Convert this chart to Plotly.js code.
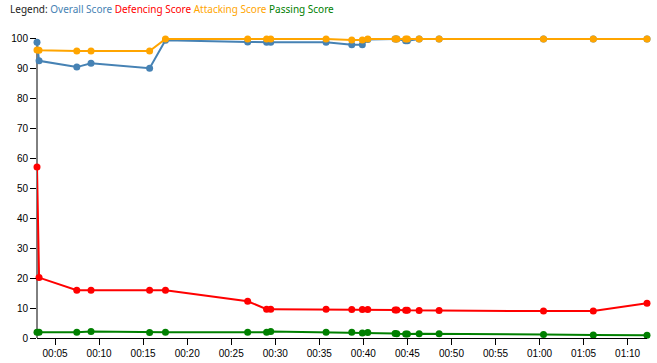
<!DOCTYPE html>
<html>
<head>
<meta charset="utf-8">
<script src="https://cdn.plot.ly/plotly-3.0.1.min.js"></script>
<style>
html,body{margin:0;padding:0;background:#fff;}
#chart{width:657px;height:363px;}
</style>
</head>
<body>
<div id="chart"></div>
<script>
// Match time (hh:mm:ss)
var times = ["00:02:57","00:03:11","00:07:28","00:09:05","00:15:44","00:17:32","00:26:52","00:29:01","00:29:29","00:35:46","00:38:41","00:39:53","00:40:30","00:43:36","00:43:48","00:44:48","00:45:00","00:46:20","00:48:36","01:00:27","01:06:06","01:12:12"];
var overallScore   = [98.9, 92.7, 90.6, 91.9, 90.2, 99.6, 99.0, 98.9, 98.9, 98.9, 98.1, 98.1, 99.8, 100, 100, 99.4, 99.4, 100, 100, 100, 100, 100];
var defencingScore = [57.2, 20.2, 16.0, 16.0, 16.0, 16.0, 12.3, 9.6, 9.6, 9.6, 9.5, 9.5, 9.5, 9.4, 9.4, 9.3, 9.3, 9.2, 9.2, 9.0, 9.0, 11.6];
var attackingScore = [96.3, 96.2, 96.0, 96.0, 96.0, 100, 100, 100, 100, 100, 99.7, 99.7, 100, 100, 100, 100, 100, 100, 100, 100, 100, 100];
var passingScore   = [1.9, 1.9, 1.9, 2.2, 1.8, 1.9, 1.9, 1.9, 2.2, 1.9, 1.9, 1.7, 1.8, 1.5, 1.4, 1.3, 1.3, 1.4, 1.4, 1.2, 1.0, 0.9];
var yTicks = [0,10,20,30,40,50,60,70,80,90,100];

var seriesNames = ["Overall Score","Defencing Score","Attacking Score","Passing Score"];
var seriesColors = ["#4682b4","#ff0000","#ffa500","#008000"];
var seriesData = [overallScore, defencingScore, attackingScore, passingScore];

var x = times.map(function(t){ return "2000-01-01 " + t; });

var traces = seriesData.map(function(d, i){
  return {
    x: x, y: d, type: "scatter", mode: "lines+markers",
    name: seriesNames[i],
    line: {color: seriesColors[i], width: 2},
    marker: {color: seriesColors[i], size: 7},
    cliponaxis: false,
    hoverinfo: "none"
  };
});

var legendText = '<span style="color:#222">Legend: </span>' + seriesNames.map(function(n, i){
  return '<span style="color:' + seriesColors[i] + '">' + n + '</span>';
}).join(' ');

var tickFont = {family: "Liberation Sans, Arial, sans-serif", size: 10, color: "#000"};

var layout = {
  width: 657, height: 363,
  margin: {l: 37, r: 10, t: 33, b: 25, pad: 0},
  paper_bgcolor: "#fff", plot_bgcolor: "#fff",
  showlegend: false,
  xaxis: {
    type: "date",
    range: [x[0], x[x.length - 1]],
    tickformat: "%H:%M",
    dtick: 5 * 60 * 1000,
    tick0: "2000-01-01 00:00:00",
    showgrid: false, zeroline: false,
    showline: true, linecolor: "#000", linewidth: 1,
    ticks: "outside", ticklen: 6, tickcolor: "#000", tickwidth: 1,
    tickfont: tickFont
  },
  yaxis: {
    range: [0, 102],
    tickvals: yTicks,
    showgrid: false, zeroline: false,
    showline: false,
    ticks: "outside", ticklen: 6, tickcolor: "#000", tickwidth: 1,
    tickfont: tickFont
  },
  shapes: [{
    type: "line", layer: "below",
    xref: "paper", x0: 0, x1: 0,
    yref: "y", y0: yTicks[0], y1: yTicks[yTicks.length - 1],
    line: {color: "#000", width: 1}
  }],
  annotations: [{
    xref: "paper", yref: "paper", x: 0, y: 1,
    xanchor: "left", yanchor: "middle",
    xshift: -29, yshift: 24,
    showarrow: false, align: "left",
    text: legendText,
    font: {family: "Noto Sans, sans-serif", size: 10, color: "#222"}
  }]
};

Plotly.newPlot("chart", traces, layout, {displayModeBar: false, staticPlot: true});
</script>
</body>
</html>
